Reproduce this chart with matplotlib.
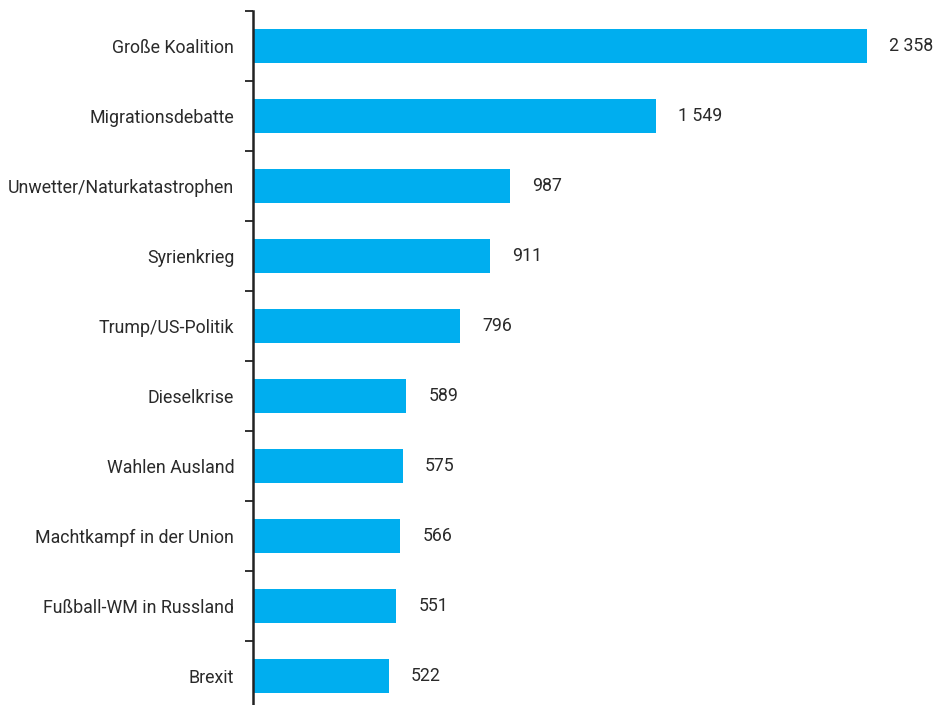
import matplotlib as mpl
mpl.use('agg')
import matplotlib.pyplot as plt
import numpy as np

plt.rc('font', family=['Roboto', 'DejaVu Sans'])

topics = ["Große Koalition", "Migrationsdebatte", "Unwetter/Naturkatastrophen",
          "Syrienkrieg", "Trump/US-Politik", "Dieselkrise", "Wahlen Ausland",
          "Machtkampf in der Union", "Fußball-WM in Russland", "Brexit"]
counts = [2358, 1549, 987, 911, 796, 589, 575, 566, 551, 522]

fig = plt.figure(figsize=(9.36, 7.05), dpi=100)
ax = fig.add_axes([253/936, -6/705, 683/936, 700/705])

y = np.arange(len(topics))
ax.barh(y, counts, height=0.49, color='#00aeef')
ax.set_ylim(len(topics) - 0.5, -0.5)
ax.set_xlim(0, 683 / 0.2604)

ax.set_yticks(y)
ax.set_yticklabels(topics, fontsize=12.8, color='#2a2a2a')
ax.set_yticks(np.arange(-0.5, len(topics), 1), minor=True)
ax.tick_params(axis='y', which='major', length=0, pad=13.5)
ax.tick_params(axis='y', which='minor', length=6, width=1.3, color='#222222')
ax.set_xticks([])

for s in ['top', 'right', 'bottom']:
    ax.spines[s].set_visible(False)
ax.spines['left'].set_linewidth(1.8)
ax.spines['left'].set_color('#222222')

for yi, c in zip(y, counts):
    ax.text(c + 22 / 0.2604, yi, f"{c:,}".replace(",", " "), va='center', ha='left',
            fontsize=12.8, color='#2a2a2a')

fig.savefig("out.png", dpi=100)
